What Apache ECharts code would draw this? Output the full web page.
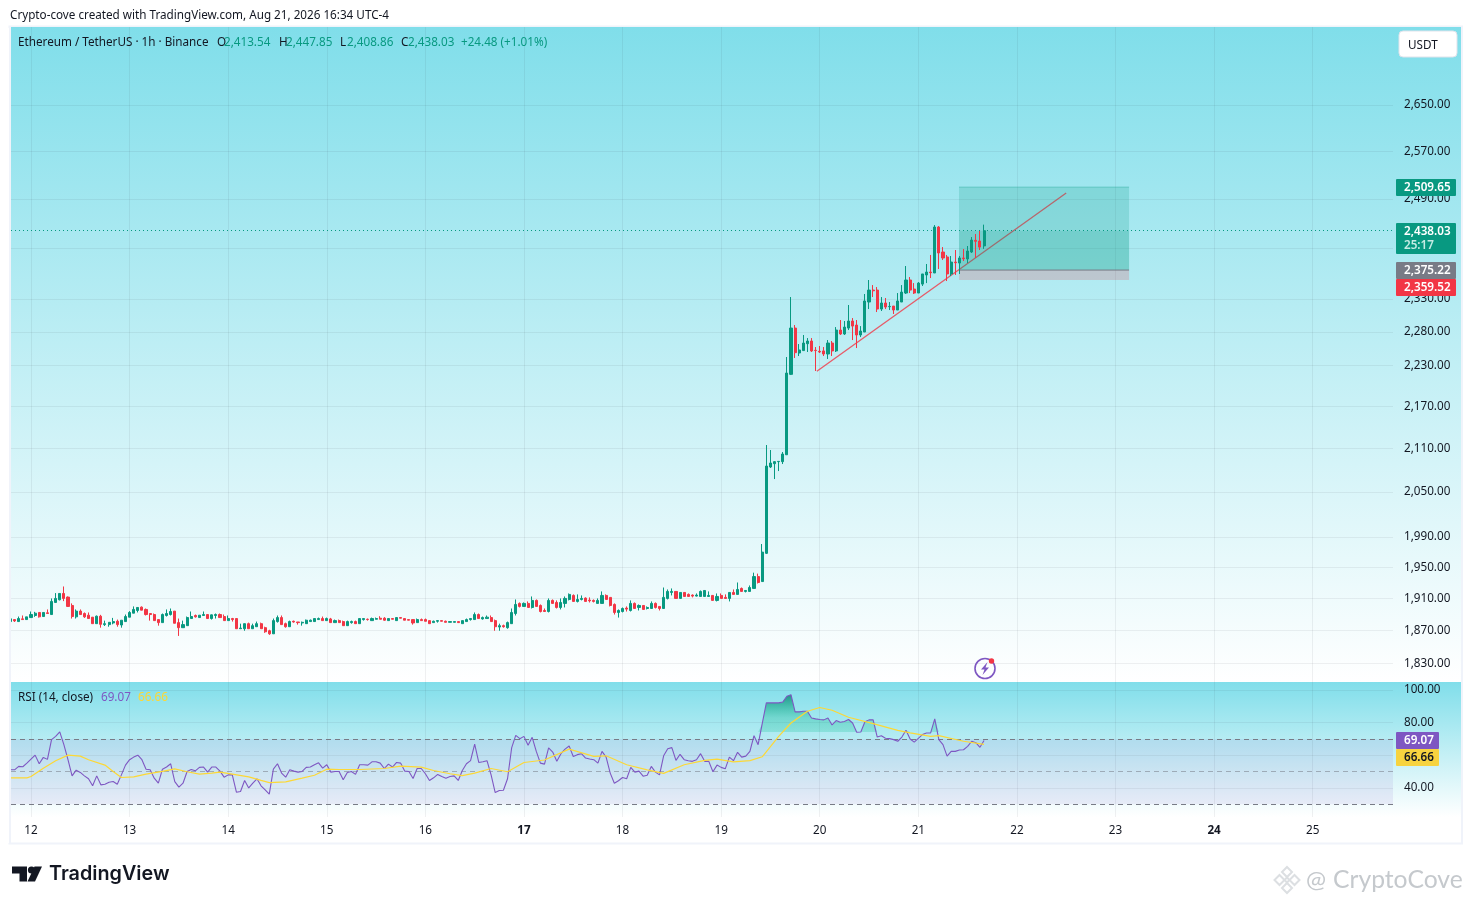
<!DOCTYPE html>
<html>
<head>
<meta charset="utf-8">
<style>html,body{margin:0;padding:0;background:#fff}#c{width:1471px;height:904px}</style>
<script src="https://cdn.jsdelivr.net/npm/echarts@6/dist/echarts.min.js"></script>
</head>
<body>
<div id="c"></div>
<script>
const firstHour = -5;
const opens = [
1881.3,1883.8,1881.3,1884.7,1883.8,1886.3,1888.9,1892.7,1887.6,1892.3,
1890.1,1905.3,1908.7,1916.7,1912.1,1901.5,1887.2,1894.4,1891.4,1889.3,
1886.8,1878.7,1888.0,1877.5,1877.5,1879.6,1881.7,1877.0,1881.3,1886.8,
1891.8,1895.2,1899.4,1896.5,1891.4,1890.1,1883.8,1880.0,1888.9,1890.1,
1894.4,1880.0,1873.7,1876.2,1885.1,1888.9,1886.3,1888.9,1890.1,1885.1,
1888.9,1890.1,1887.6,1882.5,1885.1,1885.1,1872.4,1872.4,1878.7,1872.4,
1874.9,1878.7,1873.7,1869.9,1866.1,1881.3,1886.3,1878.7,1874.9,1881.7,
1880.8,1879.6,1878.7,1881.3,1881.3,1883.8,1885.1,1882.5,1884.6,1880.0,
1882.5,1881.3,1876.2,1880.0,1881.3,1878.7,1883.8,1884.2,1882.5,1884.2,
1885.5,1885.5,1882.5,1885.1,1882.5,1886.3,1885.1,1883.8,1883.8,1880.0,
1883.8,1883.8,1882.5,1880.0,1881.7,1882.5,1881.7,1880.4,1880.4,1881.3,
1878.7,1881.3,1883.8,1883.8,1890.1,1884.6,1885.1,1886.3,1882.5,1874.5,
1876.2,1873.7,1878.7,1891.4,1904.1,1900.3,1904.1,1899.0,1907.9,1901.5,
1895.2,1893.9,1907.9,1905.3,1899.0,1904.1,1909.1,1914.2,1906.6,1909.1,
1910.8,1908.3,1907.9,1904.1,1904.1,1914.2,1911.7,1902.8,1892.7,1893.9,
1898.2,1895.2,1904.1,1899.0,1901.5,1897.7,1897.7,1904.1,1900.3,1897.7,
1910.4,1918.0,1919.3,1910.4,1918.0,1915.5,1914.6,1913.4,1912.9,1912.9,
1912.9,1914.2,1907.9,1914.2,1911.7,1910.4,1918.0,1915.5,1923.1,1919.3,
1919.3,1923.1,1938.3,1931.9,1968.4,2084.4,2089.0,2091.8,2091.8,2101.4,
2216.5,2285.6,2248.1,2251.7,2262.0,2266.0,2252.2,2250.6,2251.2,2246.6,
2263.0,2251.2,2282.6,2276.6,2285.6,2296.3,2290.2,2275.1,2279.6,2325.4,
2343.9,2343.9,2314.6,2323.9,2318.2,2319.2,2313.1,2325.4,2339.3,2359.6,
2345.5,2339.3,2353.2,2367.5,2372.1,2370.6,2444.0,2403.8,2395.9,2369.1,
2387.9,2386.3,2394.3,2392.7,2403.8,2422.5,2421.4,2413.54];
const closes = [
1884.7,1882.1,1885.1,1883.8,1887.2,1890.1,1891.8,1887.2,1892.7,1891.4,
1906.6,1910.4,1916.7,1910.4,1900.3,1887.6,1894.4,1890.1,1887.2,1885.1,
1878.7,1888.0,1877.9,1878.7,1880.4,1881.3,1877.5,1883.0,1887.6,1892.7,
1896.5,1899.0,1895.6,1890.1,1890.1,1882.5,1880.0,1890.1,1891.4,1893.9,
1879.2,1873.7,1877.5,1886.3,1887.6,1887.2,1889.3,1890.1,1885.1,1889.7,
1890.1,1886.3,1882.5,1885.1,1883.8,1872.4,1873.2,1878.7,1872.4,1876.2,
1878.7,1872.4,1868.6,1866.1,1882.5,1886.3,1877.5,1874.9,1881.3,1880.8,
1880.0,1880.4,1883.0,1883.0,1885.1,1885.1,1882.5,1885.1,1880.0,1882.5,
1880.0,1876.2,1881.3,1881.3,1878.7,1885.1,1885.1,1883.8,1885.1,1885.1,
1884.2,1883.0,1885.1,1884.2,1886.3,1885.5,1883.0,1883.0,1879.6,1883.8,
1882.5,1881.7,1878.7,1881.7,1882.5,1881.7,1880.4,1881.3,1881.3,1880.0,
1882.5,1883.8,1885.1,1890.1,1885.1,1886.3,1886.8,1881.3,1874.9,1876.2,
1874.9,1880.0,1892.7,1902.8,1900.3,1904.1,1899.0,1907.9,1900.3,1893.9,
1893.9,1907.9,1904.1,1899.0,1905.3,1910.4,1915.5,1906.6,1909.1,1910.4,
1906.6,1907.4,1906.6,1907.9,1914.2,1909.1,1901.5,1892.7,1895.2,1897.7,
1896.9,1904.1,1897.7,1901.5,1896.5,1899.0,1904.1,1899.0,1897.7,1911.7,
1919.3,1919.3,1910.4,1918.0,1912.9,1912.9,1913.4,1914.6,1919.3,1920.5,
1914.2,1907.9,1912.9,1910.4,1910.4,1918.0,1915.5,1921.8,1919.3,1920.5,
1924.3,1938.3,1930.7,1970.0,2085.7,2089.9,2091.8,2092.2,2102.4,2218.4,
2285.6,2248.6,2252.6,2263.0,2266.0,2251.2,2251.7,2249.6,2246.6,2263.0,
2251.2,2282.6,2276.6,2287.1,2296.3,2288.6,2275.1,2281.1,2327.0,2343.9,
2342.8,2314.6,2323.9,2317.7,2318.7,2313.1,2327.0,2340.8,2359.6,2343.9,
2339.3,2354.8,2369.1,2372.1,2371.1,2444.0,2402.3,2394.3,2369.1,2387.9,
2386.8,2394.3,2393.2,2405.4,2423.0,2420.9,2411.7,2438.03];
const lows = [
1879.6,1880.8,1881.3,1883.8,1883.8,1886.3,1887.2,1886.3,1887.6,1891.4,
1890.1,1905.3,1907.9,1907.0,1900.3,1885.1,1885.1,1890.1,1885.9,1885.1,
1878.7,1878.7,1873.7,1875.8,1874.9,1877.9,1874.9,1873.7,1881.3,1886.8,
1891.8,1892.7,1895.6,1888.9,1882.5,1882.5,1876.2,1880.0,1887.6,1888.9,
1879.2,1863.5,1873.7,1876.2,1885.1,1886.3,1886.3,1888.9,1885.1,1883.8,
1885.1,1886.3,1882.5,1882.5,1881.3,1872.4,1872.4,1869.9,1872.4,1872.4,
1874.9,1872.4,1867.3,1864.8,1866.1,1880.0,1877.5,1873.7,1874.9,1880.0,
1877.5,1876.2,1878.7,1881.3,1881.3,1883.8,1882.5,1882.5,1880.0,1880.0,
1880.0,1876.2,1876.2,1878.7,1878.7,1878.7,1882.5,1882.5,1882.5,1883.8,
1884.2,1882.5,1882.5,1884.2,1882.5,1885.5,1883.0,1883.0,1877.5,1880.0,
1882.5,1881.7,1878.7,1880.0,1880.0,1881.7,1880.4,1880.4,1880.4,1880.0,
1878.7,1881.3,1882.5,1883.8,1885.1,1883.8,1885.1,1881.3,1869.9,1869.9,
1873.7,1872.4,1878.7,1888.9,1899.0,1900.3,1899.0,1897.7,1900.3,1892.7,
1893.9,1892.7,1904.1,1897.7,1896.5,1899.0,1907.9,1906.6,1905.3,1907.9,
1906.6,1905.3,1905.3,1904.1,1904.1,1909.1,1900.3,1890.1,1886.3,1892.7,
1893.9,1893.9,1897.7,1895.2,1896.5,1896.5,1897.7,1897.7,1895.2,1897.7,
1909.1,1914.2,1910.4,1910.4,1912.9,1912.9,1911.7,1912.9,1912.9,1912.9,
1912.9,1907.9,1906.6,1910.4,1910.4,1906.6,1915.5,1915.5,1919.3,1918.0,
1919.3,1923.1,1929.4,1931.9,1967.5,2083.0,2067.8,2078.8,2088.5,2101.4,
2215.5,2240.7,2243.6,2251.2,2249.6,2249.6,2221.4,2248.1,2243.6,2239.2,
2243.6,2249.6,2275.1,2275.1,2282.6,2267.5,2255.5,2272.0,2279.6,2314.6,
2333.1,2310.0,2311.6,2314.6,2313.1,2307.0,2313.1,2325.4,2337.8,2339.3,
2337.8,2339.3,2350.2,2354.8,2362.7,2370.6,2376.9,2391.1,2358.0,2365.9,
2367.5,2369.1,2389.5,2386.3,2402.3,2394.3,2407.0,2408.86];
const highs = [
1885.5,1883.8,1887.6,1888.9,1887.2,1893.9,1893.5,1892.7,1892.7,1896.5,
1910.4,1917.2,1916.7,1925.6,1912.9,1904.1,1896.5,1896.5,1892.7,1892.7,
1886.8,1888.9,1889.7,1882.5,1880.4,1885.9,1883.8,1883.0,1890.1,1894.4,
1900.3,1899.0,1900.3,1897.7,1891.4,1891.4,1883.8,1891.4,1896.5,1897.7,
1894.4,1885.1,1882.5,1887.6,1893.9,1890.1,1889.3,1893.9,1890.1,1890.1,
1891.4,1891.4,1890.1,1888.9,1885.9,1885.1,1878.7,1878.7,1880.0,1878.7,
1881.3,1880.0,1874.9,1871.1,1885.1,1888.9,1888.9,1880.0,1882.5,1882.5,
1880.8,1881.3,1883.8,1883.8,1885.1,1886.3,1887.6,1886.3,1885.9,1883.8,
1883.8,1882.5,1882.5,1882.5,1882.5,1885.1,1885.1,1885.1,1886.3,1886.3,
1888.0,1886.8,1885.1,1885.1,1886.3,1886.3,1885.1,1883.8,1883.8,1885.1,
1885.1,1885.1,1882.5,1882.5,1882.5,1882.5,1882.5,1881.3,1881.3,1881.3,
1882.5,1885.1,1885.1,1892.7,1891.4,1887.6,1888.9,1888.9,1883.8,1878.7,
1877.5,1881.3,1897.7,1909.1,1905.3,1905.3,1906.6,1912.9,1909.1,1902.8,
1897.7,1910.4,1909.1,1907.9,1910.4,1912.9,1916.7,1915.5,1915.5,1914.2,
1911.7,1911.7,1909.1,1910.4,1919.3,1915.5,1911.7,1904.1,1896.5,1899.0,
1900.3,1907.9,1905.3,1902.8,1901.5,1900.3,1906.6,1905.3,1900.3,1924.3,
1921.8,1923.1,1919.3,1918.0,1918.0,1916.7,1915.5,1916.7,1920.5,1920.5,
1919.3,1914.2,1916.7,1916.7,1915.5,1918.0,1921.8,1930.7,1924.3,1920.5,
1926.9,1943.3,1942.1,1980.6,2115.0,2108.0,2092.7,2092.2,2105.2,2242.1,
2333.1,2290.2,2261.5,2275.1,2270.5,2270.5,2257.0,2258.5,2257.0,2267.5,
2266.0,2287.1,2297.8,2296.3,2320.8,2300.8,2297.8,2288.6,2337.8,2359.6,
2351.7,2348.6,2333.1,2331.6,2325.4,2319.2,2339.3,2351.7,2381.6,2364.3,
2354.8,2356.4,2369.1,2384.8,2399.1,2447.2,2445.6,2411.7,2399.1,2397.5,
2407.0,2397.5,2408.6,2413.4,2427.8,2432.7,2437.6,2447.85];
const rsiValues = [
51.1,51.1,53.2,53.0,55.2,57.7,60.1,54.8,58.7,57.5,
69.6,71.6,74.3,66.5,57.3,47.4,50.9,49.5,47.4,45.6,
41.3,47.4,41.9,42.3,43.5,43.9,42.3,48.0,54.0,57.3,
58.9,60.1,57.3,51.5,51.1,46.0,42.9,51.5,52.8,54.8,
43.9,40.5,42.9,50.1,51.3,50.5,52.6,52.8,49.7,52.8,
52.8,50.3,46.6,48.0,48.0,37.4,37.8,44.6,40.0,42.9,
45.6,41.3,38.8,36.2,51.5,54.8,49.1,46.6,51.1,50.3,
49.7,50.1,52.6,52.8,54.2,55.4,52.1,54.2,49.7,50.1,
50.1,45.0,49.5,50.1,48.3,54.2,54.2,54.0,56.0,56.0,
55.2,51.9,54.6,52.8,55.6,55.2,50.3,50.1,45.8,51.9,
51.9,48.7,44.6,46.2,48.3,47.0,46.0,47.0,47.4,44.6,
50.7,54.8,56.7,66.9,55.6,56.0,56.7,48.0,37.2,38.4,
38.6,45.6,64.5,72.2,70.2,71.6,66.1,71.0,62.4,55.2,
54.6,64.5,62.0,56.3,61.0,63.8,65.7,59.3,60.4,61.0,
58.3,57.7,57.3,55.2,62.4,58.9,49.1,42.9,44.4,46.4,
45.6,52.6,49.7,50.3,47.2,47.8,53.2,49.7,48.0,59.7,
64.0,64.7,56.9,60.6,57.3,56.7,56.3,57.3,61.0,56.3,
56.3,49.9,54.0,52.6,51.7,58.9,56.7,61.8,58.9,59.5,
62.4,72.0,66.5,79.4,92.1,92.1,92.1,92.1,92.6,96.2,
97.1,86.6,86.6,87.0,87.0,82.9,82.3,81.9,81.7,82.9,
78.6,81.3,80.2,80.7,81.9,79.8,74.1,74.3,80.5,81.7,
81.7,71.2,72.0,70.4,70.2,69.6,68.6,71.2,75.3,70.0,
68.1,70.4,72.7,73.7,73.7,82.3,69.6,66.5,59.5,62.4,
62.4,63.2,63.4,65.5,68.6,67.7,64.9,69.07];
const maHours = [-5,-1,0,3,6,9,12,14,18,20,22,25,28,32,35,38,41,44,46,49,53,56,58,62,66,69,72,75,80,86,90,95,98,102,105,108,112,116,120,125,131,137,140,145,150,154,159,164,167,171,175,178,182,185,189,192,195,199,205,211,214,219,221,227,232];
const maValues = [46.2,46.2,47.0,52.1,56.7,60.1,59.5,57.3,54.0,50.1,46.4,46.8,48.5,50.1,51.7,49.9,48.5,49.1,49.7,48.5,46.8,44.6,43.3,43.7,46.0,47.8,51.5,51.3,51.3,51.9,53.4,52.8,50.7,48.7,47.6,49.1,51.9,49.9,55.6,57.1,63.8,59.3,59.7,54.2,51.1,48.9,54.2,56.9,57.7,56.0,56.7,59.1,71.6,79.8,87.0,89.3,87.6,83.3,79.4,75.3,73.7,71.6,72.0,68.6,66.66];
const dayLabels = ['12','13','14','15','16','17','18','19','20','21','22','23','24','25'];
const boldDays = ['17','24'];
const priceTicks = [2650,2570,2490,2410,2330,2280,2230,2170,2110,2050,1990,1950,1910,1870,1830];
const rsiTicks = [100,80,60,40];
const targetPrice = 2509.65, entryPrice = 2375.22, stopPrice = 2359.52, lastPrice = 2438.03;
const positionHours = [225.9, 267.3];
const trendHours = [191.3, 252];
const trendPrices = [2221, 2499.8];
const rsiFillFloor = 74.3;

const UI = '"Noto Sans", sans-serif';
const dark = '#131722', up = '#089981', down = '#f23645', purple = '#7e57c2', yellow = '#fdd835';
const gridColor = 'rgba(42,46,57,0.07)';
const X0 = 11, XW = 1382;
const FS = 11.7;

const hours = opens.map((_, i) => firstHour + i);
const dayTicks = dayLabels.map((_, i) => i * 24);
const candleData = hours.map((h, i) => [h, opens[i], closes[i], lows[i], highs[i]]);
const rsiData = hours.map((h, i) => [h, rsiValues[i]]);
const maData = maHours.map((h, i) => [h, maValues[i]]);
const rsiFill = hours.map((h, i) => [h, Math.max(rsiValues[i], rsiFillFloor)]);

function xAxisBase(extra) {
  return Object.assign({
    type: 'value', min: -4.87, max: 331.55, interval: 24,
    axisLine: {show: false},
    axisTick: {show: false, customValues: dayTicks},
    splitLine: {show: true, lineStyle: {color: gridColor, width: 1}},
  }, extra);
}
const bg = (y, h) => ({type: 'rect', z: -10, silent: true, shape: {x: X0, y, width: 1450, height: h},
  style: {fill: {type: 'linear', x: 0, y: 0, x2: 0, y2: 1, colorStops: [{offset: 0, color: '#80deea'}, {offset: 1, color: '#ffffff'}]}}});
const txt = (x, y, text, fill, opt) => ({type: 'text', z: 50, silent: true, x, y,
  style: Object.assign({text, fill, font: FS + 'px ' + UI, verticalAlign: 'middle', align: 'left'}, opt || {})});
const tag = (y, h, w, color, lines, txtColors) => {
  const els = [{type: 'rect', z: 40, silent: true, shape: {x: 1396, y, width: w, height: h, r: 1}, style: {fill: color}}];
  lines.forEach((l, i) => els.push(txt(1404, y + 8.5 + i * 14, l, txtColors[i], {font: '600 ' + FS + 'px ' + UI})));
  return els;
};
const graphicEls = [
  {type: 'rect', z: -11, silent: true, shape: {x: 9.5, y: 26.5, width: 1452.5, height: 817}, style: {fill: '#fff', stroke: '#f0f3fa', lineWidth: 2}},
  bg(27, 655), bg(682, 135),
  {type: 'rect', z: 30, silent: true, shape: {x: 0, y: 28, width: 9, height: 815}, style: {fill: '#fff'}},
  {type: 'rect', z: 30, silent: true, shape: {x: 9, y: 28, width: 2, height: 815}, style: {fill: '#f0f3fa'}},
  txt(10, 16, 'Crypto-cove created with TradingView.com, Aug 21, 2026 16:34 UTC-4', '#131722'),
  txt(18, 43, 'Ethereum / TetherUS · 1h · Binance', dark),
  txt(217, 43, 'O', dark), txt(224, 43, '2,413.54', up),
  txt(279, 43, 'H', dark), txt(286, 43, '2,447.85', up),
  txt(340, 43, 'L', dark), txt(347, 43, '2,408.86', up),
  txt(401, 43, 'C', dark), txt(408, 43, '2,438.03', up),
  txt(461, 43, '+24.48 (+1.01%)', up),
  txt(18, 698, 'RSI (14, close)', dark), txt(101, 698, '69.07', purple), txt(138, 698, '66.66', yellow),
  {type: 'rect', z: 40, silent: true, shape: {x: 1399, y: 31, width: 58, height: 26, r: 4}, style: {fill: '#fff', stroke: '#e0e3eb', lineWidth: 1}},
  txt(1408, 45.5, 'USDT', dark),
  ...tag(179, 17, 60, up, ['2,509.65'], ['#fff']),
  ...tag(223, 31, 60, up, ['2,438.03', '25:17'], ['#fff', '#c6ece4']),
  ...tag(262, 17, 60, '#787b86', ['2,375.22'], ['#fff']),
  ...tag(279, 17, 60, down, ['2,359.52'], ['#fff']),
  ...tag(732, 17, 43, purple, ['69.07'], ['#fff']),
  ...tag(749, 17, 43, '#f7d33f', ['66.66'], [dark]),
  // alert icon
  {type: 'circle', z: 45, silent: true, shape: {cx: 985, cy: 668.5, r: 10}, style: {fill: 'rgba(255,255,255,0)', stroke: purple, lineWidth: 1.6}},
  {type: 'polygon', z: 45, silent: true, shape: {points: [[987.5, 662], [981, 669.5], [984.5, 669.5], [982.5, 675], [989, 667.5], [985.5, 667.5]]}, style: {fill: purple}},
  {type: 'circle', z: 46, silent: true, shape: {cx: 991.5, cy: 661, r: 2.7}, style: {fill: down}},
  // TradingView logo
  {type: 'polygon', z: 45, silent: true, shape: {points: [[12, 866.5], [27, 866.5], [27, 881.5], [19.5, 881.5], [19.5, 873.5], [12, 873.5]]}, style: {fill: dark}},
  {type: 'circle', z: 45, silent: true, shape: {cx: 31.5, cy: 870, r: 3.6}, style: {fill: dark}},
  {type: 'polygon', z: 45, silent: true, shape: {points: [[34.5, 866.5], [42, 866.5], [35, 881.5], [27.5, 881.5]]}, style: {fill: dark}},
  txt(49, 874.5, 'TradingView', dark, {font: '600 19.8px Inter, sans-serif'}),
  // watermark
  ...[[1287, 872, 5], [1279.5, 880, 5], [1294.5, 880, 5], [1287, 888, 5], [1287, 880, 2.5]].map(([cx, cy, r]) => ({
    type: 'polygon', z: 45, silent: true, shape: {points: [[cx, cy - r], [cx + r, cy], [cx, cy + r], [cx - r, cy]]},
    style: {fill: 'rgba(0,0,0,0)', stroke: '#dcdfe2', lineWidth: 2}})),
  txt(1306, 880, '@', '#c5c9cd', {font: '24px Lato, sans-serif'}),
  txt(1333, 880, 'CryptoCove', '#c5c9cd', {font: '24.7px Lato, sans-serif'}),
];

const chart = echarts.init(document.getElementById('c'), null, {renderer: 'canvas', width: 1471, height: 904});
chart.setOption({
  animation: false,
  backgroundColor: '#fff',
  graphic: {elements: graphicEls},
  grid: [
    {left: X0, width: XW, top: 27, height: 655},
    {left: X0, width: XW, top: 682, height: 135},
  ],
  xAxis: [
    xAxisBase({gridIndex: 0, axisLabel: {show: false, customValues: dayTicks}}),
    xAxisBase({gridIndex: 1, axisLabel: {show: true, customValues: dayTicks, margin: 8, hideOverlap: false,
      formatter: v => { const s = dayLabels[v / 24]; return boldDays.includes(s) ? '{b|' + s + '}' : '{n|' + s + '}'; },
      rich: {n: {color: dark, fontSize: FS, fontFamily: UI}, b: {color: dark, fontSize: FS, fontFamily: UI, fontWeight: 'bold'}}}}),
  ],
  yAxis: [
    {type: 'log', logBase: 10, gridIndex: 0, position: 'right', min: 1807.4, max: 2790.7, scale: true,
      axisLine: {show: false},
      axisTick: {show: false, customValues: priceTicks},
      splitLine: {show: true, lineStyle: {color: gridColor}},
      axisLabel: {customValues: priceTicks, color: dark, fontSize: FS, fontFamily: UI, margin: 11, align: 'left',
        showMinLabel: true, showMaxLabel: true,
        formatter: v => Math.round(v).toLocaleString('en-US') + '.00'}},
    {type: 'value', gridIndex: 1, position: 'right', min: 22.2, max: 104.9,
      axisLine: {show: false},
      axisTick: {show: false, customValues: rsiTicks},
      splitLine: {show: true, lineStyle: {color: gridColor}},
      axisLabel: {customValues: rsiTicks, color: dark, fontSize: FS, fontFamily: UI, margin: 11, align: 'left', padding: [2, 0, 0, 0],
        formatter: v => v.toFixed(2)}},
  ],
  series: [
    {type: 'candlestick', xAxisIndex: 0, yAxisIndex: 0, z: 4, data: candleData, barWidth: 2.6,
      itemStyle: {color: up, color0: down, borderColor: up, borderColor0: down, borderWidth: 1},
      markLine: {silent: true, symbol: 'none', z: 2, label: {show: false}, animation: false,
        data: [
          [{coord: [trendHours[0], trendPrices[0]], lineStyle: {color: down, width: 1.3, type: 'solid', opacity: .8}},
           {coord: [trendHours[1], trendPrices[1]]}],
          [{coord: [-4.87, lastPrice], lineStyle: {color: up, width: 1, type: [1, 3]}}, {coord: [331.55, lastPrice]}],
        ]},
      markArea: {silent: true, z: 3, animation: false,
        data: [
          [{coord: [positionHours[0], targetPrice], itemStyle: {color: 'rgba(8,153,129,0.2)'}}, {coord: [positionHours[1], entryPrice]}],
          [{coord: [positionHours[0], lastPrice], itemStyle: {color: 'rgba(8,153,129,0.16)'}}, {coord: [positionHours[1], entryPrice]}],
          [{coord: [positionHours[0], entryPrice], itemStyle: {color: 'rgba(242,54,69,0.2)'}}, {coord: [positionHours[1], stopPrice]}],
        ]}},
    {type: 'line', name: 'entry', xAxisIndex: 0, yAxisIndex: 0, data: [[positionHours[0], entryPrice], [positionHours[1], entryPrice]],
      symbol: 'none', z: 3, silent: true, lineStyle: {color: '#787b86', width: 1}},
    {type: 'line', name: 'target', xAxisIndex: 0, yAxisIndex: 0, data: [[positionHours[0], targetPrice], [positionHours[1], targetPrice]],
      symbol: 'none', z: 3, silent: true, lineStyle: {color: 'rgba(8,153,129,0.3)', width: 1}},
    {type: 'line', name: 'overbought', xAxisIndex: 1, yAxisIndex: 1, data: rsiFill, symbol: 'none', z: 2, silent: true,
      lineStyle: {opacity: 0, width: 0},
      areaStyle: {origin: rsiFillFloor, opacity: 1, color: {type: 'linear', global: true, x: 0, y: 695, x2: 0, y2: 733,
        colorStops: [{offset: 0, color: 'rgba(8,130,110,0.8)'}, {offset: 0.3, color: 'rgba(8,160,125,0.55)'}, {offset: 0.6, color: 'rgba(8,180,135,0.3)'}, {offset: 1, color: 'rgba(8,190,140,0.22)'}]}}},
    {type: 'line', name: 'RSI', xAxisIndex: 1, yAxisIndex: 1, data: rsiData, symbol: 'none', z: 4, silent: true,
      lineStyle: {color: purple, width: 1.1},
      markArea: {silent: true, z: 1, animation: false, data: [[{yAxis: 70, itemStyle: {color: 'rgba(126,87,194,0.1)'}}, {yAxis: 30}]]},
      markLine: {silent: true, symbol: 'none', z: 3, animation: false, label: {show: false},
        lineStyle: {color: '#787b86', width: 1, type: [5, 4]},
        data: [{yAxis: 70}, {yAxis: 50, lineStyle: {color: 'rgba(120,123,134,0.55)', width: 1, type: [5, 4]}}, {yAxis: 30}]}},
    {type: 'line', name: 'RSI MA', xAxisIndex: 1, yAxisIndex: 1, data: maData, symbol: 'none', z: 5, silent: true,
      lineStyle: {color: yellow, width: 1.2}},
  ],
});
</script>
</body>
</html>
